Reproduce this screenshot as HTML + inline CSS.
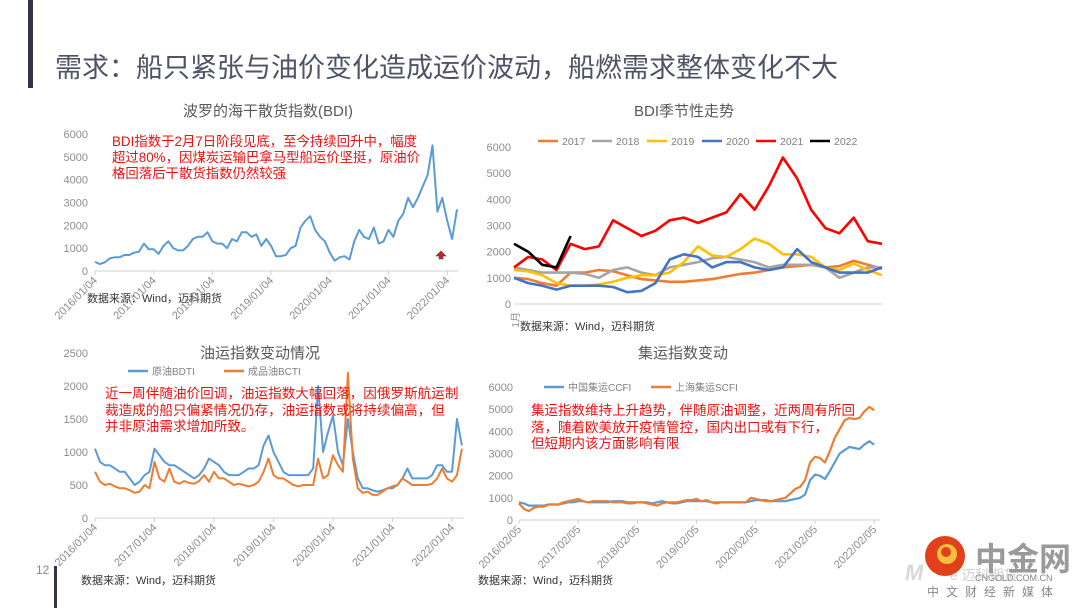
<!DOCTYPE html>
<html><head><meta charset="utf-8">
<style>
html,body{margin:0;padding:0;background:#fff;}
body{width:1080px;height:608px;overflow:hidden;font-family:"Liberation Sans","Noto Sans CJK SC",sans-serif;}
svg text{font-family:"Liberation Sans","Noto Sans CJK SC",sans-serif;}
</style></head>
<body>
<svg id="s" width="1080" height="608" viewBox="0 0 1080 608">
<rect x="28" y="0" width="5" height="88" fill="#2f3447"/>
<text x="55" y="77" font-size="27" fill="#4f5366">需求：船只紧张与油价变化造成运价波动，船燃需求整体变化不大</text>
<rect x="54" y="566" width="3" height="42" fill="#2f3447"/>
<text x="36" y="574" font-size="12" fill="#888">12</text>

<text x="268" y="116" font-size="15" fill="#595959" text-anchor="middle">波罗的海干散货指数(BDI)</text>
<text x="684" y="116" font-size="15" fill="#595959" text-anchor="middle">BDI季节性走势</text>
<text x="260" y="358" font-size="15" fill="#595959" text-anchor="middle">油运指数变动情况</text>
<text x="683" y="358" font-size="15" fill="#595959" text-anchor="middle">集运指数变动</text>

<text x="87" y="302" font-size="11" fill="#333">数据来源：Wind，迈科期货</text>
<text x="520" y="330" font-size="11" fill="#333">数据来源：Wind，迈科期货</text>
<text x="81" y="584" font-size="11" fill="#333">数据来源：Wind，迈科期货</text>
<text x="478" y="584" font-size="11" fill="#333">数据来源：Wind，迈科期货</text>

<g id="g1"></g>
<g id="g2"></g>
<g id="g3"></g>
<g id="g4"></g>

<g font-size="13.4" fill="#f01010">
<text x="112" y="146">BDI指数于2月7日阶段见底，至今持续回升中，幅度</text>
<text x="112" y="162">超过80%，因煤炭运输巴拿马型船运价坚挺，原油价</text>
<text x="112" y="178">格回落后干散货指数仍然较强</text>
</g>
<path d="M441 251 L446 256 L443 256 L443 259 L439 259 L439 256 L436 256 Z" fill="#d02020" stroke="#445" stroke-width="0.6"/>
<g font-size="13.6" fill="#f01010">
<text x="105" y="398">近一周伴随油价回调，油运指数大幅回落，因俄罗斯航运制</text>
<text x="105" y="415">裁造成的船只偏紧情况仍存，油运指数或将持续偏高，但</text>
<text x="105" y="431">并非原油需求增加所致。</text>
</g>
<g font-size="13.5" fill="#f01010">
<text x="531" y="415">集运指数维持上升趋势，伴随原油调整，近两周有所回</text>
<text x="531" y="432">落，随着欧美放开疫情管控，国内出口或有下行，</text>
<text x="531" y="448">但短期内该方面影响有限</text>
</g>

<g>
<text x="905" y="580" font-size="22" font-style="italic" font-weight="bold" fill="#d8d8d8">M</text>
<text x="950" y="580" font-size="14" fill="#d0d0d0">e 迈科期货</text>
<circle cx="945" cy="556" r="20" fill="#e0401a"/>
<circle cx="947" cy="554" r="10" fill="#f5c040"/>
<circle cx="946" cy="552" r="5" fill="#e0401a"/>
<text x="975" y="570" font-size="32" font-weight="bold" fill="#9a9a9a">中金网</text>
<text x="975" y="581" font-size="9" fill="#888">CNGOLD.COM.CN</text>
<text x="927" y="596" font-size="12" fill="#888" letter-spacing="7">中文财经新媒体</text>
</g>
</svg>
<script>
const bdiTicks = ["2016/01/04","2017/01/04","2018/01/04","2019/01/04","2020/01/04","2021/01/04","2022/01/04"];
const bdiYTicks = [0,1000,2000,3000,4000,5000,6000];
const bdiValues = [400,300,380,550,600,600,700,700,800,850,1200,950,
 950,750,1100,1300,1000,900,900,1100,1400,1500,1500,1700,
 1300,1200,1200,1000,1400,1300,1700,1700,1500,1600,1100,1400,
 1100,650,650,700,1000,1100,1900,2200,2400,1800,1500,1300,
 800,450,600,650,500,1300,1800,1500,1400,1900,1200,1300,
 1800,1500,2200,2500,3200,2800,3200,3700,4200,5500,2600,3200,
 2200,1400,2700];

const seasYTicks = [0,1000,2000,3000,4000,5000,6000];
const seasYears = ["2017","2018","2019","2020","2021","2022"];
const s2017 = [1000,950,800,700,1200,1200,1300,1250,1100,950,900,850,850,900,950,1050,1150,1200,1300,1400,1450,1500,1400,1450,1650,1500,1350];
const s2018 = [1400,1300,1200,1200,1200,1150,1000,1300,1400,1200,1100,1400,1500,1600,1750,1800,1700,1600,1400,1500,1500,1500,1400,1000,1200,1400,1400];
const s2019 = [1300,1250,1100,800,700,700,750,850,1000,1100,1100,1200,1600,2200,1850,1800,2100,2500,2300,1900,1900,1800,1400,1300,1550,1300,1100];
const s2020 = [1000,800,700,550,700,700,700,650,450,500,800,1700,1900,1800,1400,1600,1600,1400,1300,1400,2100,1600,1400,1200,1200,1200,1400];
const s2021 = [1400,1800,1700,1300,2300,2100,2200,3200,2900,2600,2800,3200,3300,3100,3300,3500,4200,3600,4500,5600,4800,3600,2900,2700,3300,2400,2300];
const s2022 = [2300,2000,1500,1400,2600];

const oilTicks = ["2016/01/04","2017/01/04","2018/01/04","2019/01/04","2020/01/04","2021/01/04","2022/01/04"];
const oilYTicks = [0,500,1000,1500,2000,2500];
const bdti = [1050,850,800,800,750,700,700,600,500,550,650,700,
 1050,950,850,800,800,750,700,650,600,650,750,900,
 850,800,700,650,650,650,700,750,750,800,1100,1250,
 1000,850,700,650,650,650,650,650,750,2000,1000,1300,
 1550,1000,800,1500,1000,600,450,450,420,400,420,450,
 450,500,600,750,600,600,600,600,650,800,800,700,
 700,1500,1100];
const bcti = [700,550,500,520,480,450,450,420,380,400,500,450,
 850,600,550,750,550,520,560,530,520,560,650,550,
 700,600,600,550,500,520,500,480,500,550,700,900,
 650,600,600,550,500,480,500,500,500,900,600,650,
 950,800,700,2200,900,450,380,400,350,350,400,450,
 480,500,600,550,500,500,500,500,520,600,750,600,
 550,650,1050];

const ctnTicks = ["2016/02/05","2017/02/05","2018/02/05","2019/02/05","2020/02/05","2021/02/05","2022/02/05"];
const ctnYTicks = [0,1000,2000,3000,4000,5000,6000];
const ccfi = [800,750,650,650,650,650,700,700,700,750,800,
 800,850,850,800,800,800,800,800,850,850,850,800,
 800,800,800,800,750,800,850,800,750,750,800,850,
 850,850,850,850,800,800,800,800,800,800,800,800,
 850,900,900,900,850,850,850,850,900,950,1000,1150,
 1800,2050,2000,1850,2200,2600,3000,3150,3300,3250,3200,3400,
 3550,3400];
const scfi = [750,500,400,550,600,600,700,700,700,800,850,
 900,950,850,800,850,850,850,850,800,800,800,750,
 750,800,800,750,700,650,750,800,800,800,850,900,
 900,950,850,900,800,750,800,800,800,800,800,800,
 1000,950,900,850,850,900,950,1000,1200,1400,1500,1800,
 2600,2850,2800,2600,3100,3700,4100,4500,4600,4550,4600,4900,
 5100,4950];

const NS="http://www.w3.org/2000/svg";
function mk(parent,tag,attrs){const e=document.createElementNS(NS,tag);for(const k in attrs)e.setAttribute(k,attrs[k]);parent.appendChild(e);return e;}
function scale(d0,d1,r0,r1){return v=>r0+(v-d0)/(d1-d0)*(r1-r0);}
function drawYAxis(g,ticks,y,xr){ticks.forEach(t=>{const e=mk(g,'text',{x:xr,y:y(t)+4,'font-size':11,fill:'#8c8c8c','text-anchor':'end'});e.textContent=t;

});}
function drawXAxis(g,labels,xAt,y0,x0,x1){const a=mk(g,'line',{x1:x0,y1:y0,x2:x1,y2:y0,stroke:'#d0d0d0','stroke-width':1});


labels.forEach((l,i)=>{const x=xAt(i);const t=mk(g,'line',{x1:x,y1:y0,x2:x,y2:y0+4,stroke:'#d0d0d0'});


const e=mk(g,'text',{x:x+3,y:y0+10,'font-size':11,fill:'#8c8c8c','text-anchor':'end',transform:`rotate(-45 ${x+3} ${y0+10})`});e.textContent=l;

});}
function drawLine(g,vals,xf,yf,color,w,name){const d=vals.map((v,i)=>(i?'L':'M')+xf(i).toFixed(1)+' '+yf(v).toFixed(1)).join(' ');
const p=mk(g,'path',{d:d,fill:'none',stroke:color,'stroke-width':w,'stroke-linejoin':'round'});

}
function legend(g,x,y,color,label,w,fs){const l=mk(g,'line',{x1:x,y1:y,x2:x+20,y2:y,stroke:color,'stroke-width':w});


const t=mk(g,'text',{x:x+24,y:y+4,'font-size':fs,fill:'#7f7f7f'});t.textContent=label;

}

(function(){const g=document.getElementById('g1');
const y=scale(0,6000,271,134);const xm=i=>95+i*58.7/12;
drawYAxis(g,bdiYTicks,y,88);
drawXAxis(g,bdiTicks,i=>95+i*58.7,271,95,459);
drawLine(g,bdiValues,xm,y,'#5b9bd5',2,'bdi-line');})();

(function(){const g=document.getElementById('g2');
const y=scale(0,6000,304,147);const x=k=>514+k*368/26;
drawYAxis(g,seasYTicks,y,511);
const a=mk(g,'line',{x1:514,y1:304,x2:882,y2:304,stroke:'#d0d0d0'});


const m=mk(g,'text',{x:519,y:312,'font-size':10,fill:'#8c8c8c','text-anchor':'end',transform:'rotate(-90 519 312)'});m.textContent='1月';


const cols=['#ed7d31','#a5a5a5','#ffc000','#4472c4','#ff0000','#000000'];
const ser=[s2017,s2018,s2019,s2020,s2021,s2022];
ser.forEach((s,i)=>drawLine(g,s,x,y,cols[i],2.6,'series-'+seasYears[i]));
const lx=[538,592,647,702,756,810];
seasYears.forEach((yy,i)=>legend(g,lx[i],141,cols[i],yy,2.6,10.5));})();

(function(){const g=document.getElementById('g3');
const y=scale(0,2500,518,353);const xm=i=>95+i*59.5/12;
drawYAxis(g,oilYTicks,y,88);
drawXAxis(g,oilTicks,i=>95+i*59.5,518,95,464);
drawLine(g,bdti,xm,y,'#5b9bd5',2,'bdti-line');
drawLine(g,bcti,xm,y,'#ed7d31',2,'bcti-line');
legend(g,128,371,'#5b9bd5','原油BDTI',2.5,10);
legend(g,224,371,'#ed7d31','成品油BCTI',2.5,10);})();

(function(){const g=document.getElementById('g4');
const y=scale(0,6000,520,387);const xm=i=>519+i*59.2/12;
drawYAxis(g,ctnYTicks,y,513);
drawXAxis(g,ctnTicks,i=>519+i*59.2,520,519,880);
drawLine(g,ccfi,xm,y,'#5b9bd5',2.2,'ccfi-line');
drawLine(g,scfi,xm,y,'#ed7d31',2.2,'scfi-line');
legend(g,544,387,'#5b9bd5','中国集运CCFI',2.5,10);
legend(g,651,387,'#ed7d31','上海集运SCFI',2.5,10);})();
</script>
</body></html>
